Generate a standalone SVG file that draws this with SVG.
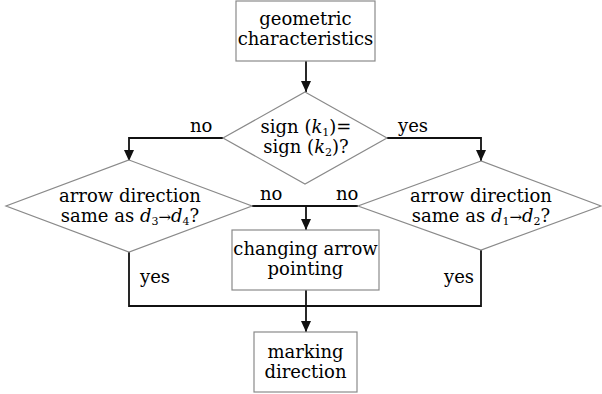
<svg xmlns="http://www.w3.org/2000/svg" width="602" height="394" viewBox="0 0 602 394">
  <style>
    .box { fill: #ffffff; stroke: #8a8a8a; stroke-width: 1.2; }
    .wire { fill: none; stroke: #111111; stroke-width: 1.8; }
    .t { font-family: "DejaVu Serif", "Liberation Serif", serif; font-size: 18px; fill: #000000; text-anchor: middle; }
    .lbl { font-family: "DejaVu Serif", "Liberation Serif", serif; font-size: 18px; fill: #000000; }
    .it { font-style: italic; }
    .sub { font-size: 11px; }
    .ar { font-size: 15px; }
  </style>
  <defs>
    <marker id="head" markerUnits="userSpaceOnUse" markerWidth="12" markerHeight="10" refX="11" refY="5" orient="auto">
      <path d="M0,0 L11,5 L0,10 z" fill="#111111"/>
    </marker>
  </defs>

  <rect width="602" height="394" fill="#ffffff"/>

  <!-- connectors -->
  <g id="connectors">
    <line class="wire" x1="306" y1="61" x2="306" y2="92" marker-end="url(#head)"/>
    <polyline class="wire" points="223,138 129,138 129,161" marker-end="url(#head)"/>
    <polyline class="wire" points="387,138 481,138 481,161" marker-end="url(#head)"/>
    <line class="wire" x1="252" y1="206" x2="358" y2="206"/>
    <line class="wire" x1="306" y1="206" x2="306" y2="230" marker-end="url(#head)"/>
    <polyline class="wire" points="129,252 129,306 481,306 481,250"/>
    <line class="wire" x1="306" y1="290" x2="306" y2="332" marker-end="url(#head)"/>
    <text class="lbl" x="190" y="132">no</text>
    <text class="lbl" x="398" y="132">yes</text>
    <text class="lbl" x="260" y="200">no</text>
    <text class="lbl" x="336" y="200">no</text>
    <text class="lbl" x="140" y="283">yes</text>
    <text class="lbl" x="444" y="283">yes</text>
  </g>

  <g id="geometric">
    <rect class="box" x="236" y="1" width="139" height="60"/>
    <text class="t" x="305.5" y="25">geometric</text>
    <text class="t" x="305.5" y="45">characteristics</text>
  </g>

  <g id="sign-test">
    <polygon class="box" points="305,92 387,138 305,184 223,138"/>
    <text class="t" x="306" y="133">sign (<tspan class="it">k</tspan><tspan class="sub" dy="3">1</tspan><tspan dy="-3">)=</tspan></text>
    <text class="t" x="306" y="153">sign (<tspan class="it">k</tspan><tspan class="sub" dy="3">2</tspan><tspan dy="-3">)?</tspan></text>
  </g>

  <g id="direction-34">
    <polygon class="box" points="129,160 252,206 129,252 6,206"/>
    <text class="t" x="130" y="202">arrow direction</text>
    <text class="t" x="130" y="222">same as <tspan class="it">d</tspan><tspan class="sub" dy="3">3</tspan><tspan class="ar" dy="-3">→</tspan><tspan class="it">d</tspan><tspan class="sub" dy="3">4</tspan><tspan dy="-3">?</tspan></text>
  </g>

  <g id="direction-12">
    <polygon class="box" points="481,161 358,206 481,250 601,206"/>
    <text class="t" x="481" y="202">arrow direction</text>
    <text class="t" x="481" y="222">same as <tspan class="it">d</tspan><tspan class="sub" dy="3">1</tspan><tspan class="ar" dy="-3">→</tspan><tspan class="it">d</tspan><tspan class="sub" dy="3">2</tspan><tspan dy="-3">?</tspan></text>
  </g>

  <g id="changing">
    <rect class="box" x="232" y="230" width="147" height="60"/>
    <text class="t" x="305.5" y="255">changing arrow</text>
    <text class="t" x="305.5" y="275">pointing</text>
  </g>

  <g id="marking">
    <rect class="box" x="254" y="332" width="103" height="60"/>
    <text class="t" x="305.5" y="358">marking</text>
    <text class="t" x="305.5" y="378">direction</text>
  </g>
</svg>
